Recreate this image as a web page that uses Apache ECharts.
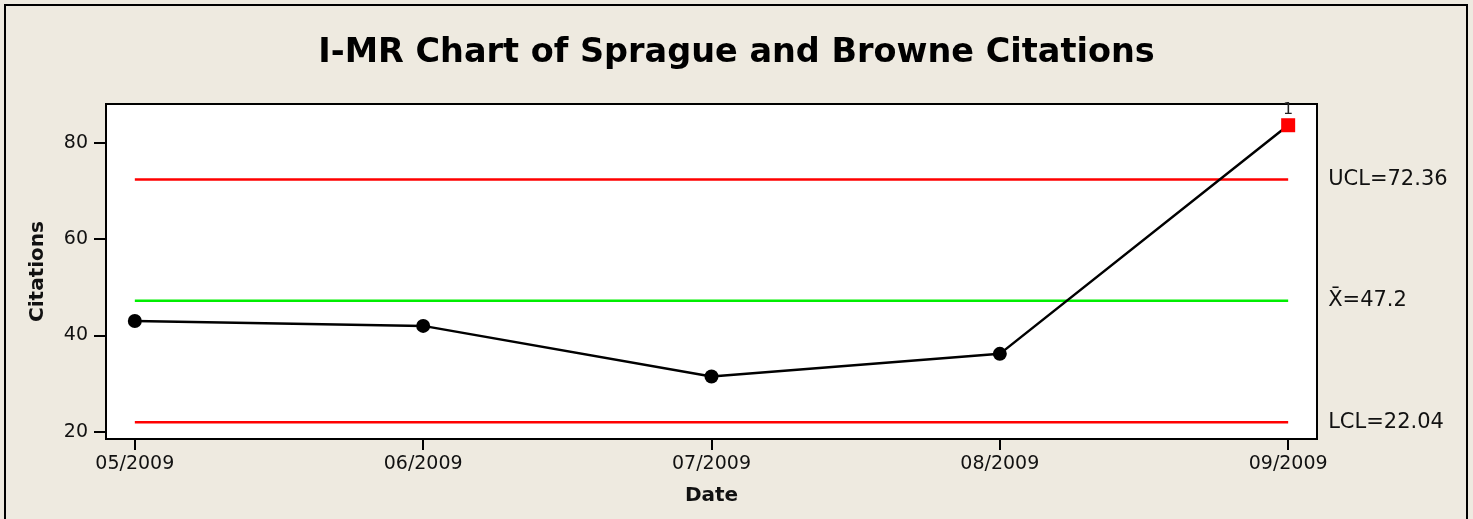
<!DOCTYPE html>
<html>
<head>
<meta charset="utf-8">
<script src="https://cdn.jsdelivr.net/npm/echarts@6/dist/echarts.min.js"></script>
<style>
  html, body { margin: 0; padding: 0; background: #eeeae0; }
  #chart { width: 1473px; height: 519px; }
</style>
</head>
<body>
<div id="chart"></div>
<script>
  // data
  const dates = ['05/2009', '06/2009', '07/2009', '08/2009', '09/2009']
  const citations = [43, 42, 31.5, 36.2, 83.6]
  const limits = [
    { name: 'UCL', value: 72.36, text: 'UCL=72.36', color: '#ff0000' },
    { name: 'Mean', value: 47.2, text: 'X\u0304=47.2', color: '#00ee00' },
    { name: 'LCL', value: 22.04, text: 'LCL=22.04', color: '#ff0000' }
  ]
  const yTicks = [20, 40, 60, 80]
  const outOfControl = [4] // index of points flagged by test 1

  const xIdx = dates.map((d, i) => i)
  const font = 'DejaVu Sans'

  const pointData = citations.map((v, i) => {
    if (outOfControl.includes(i)) {
      return {
        value: [i, v],
        symbol: 'rect',
        itemStyle: { color: '#ff0000' },
        label: { show: true, position: 'top', distance: 0, formatter: '1', fontSize: 16, color: '#222', fontFamily: font }
      }
    }
    return [i, v]
  })

  const limitSeries = limits.map(l => ({
    name: l.name,
    type: 'line',
    data: [[0, l.value], [dates.length - 1, l.value]],
    symbol: 'none',
    silent: true,
    z: 1,
    lineStyle: { color: l.color, width: 2.5 },
    endLabel: {
      show: true,
      formatter: l.text,
      distance: 40,
      fontSize: 21,
      color: '#111',
      fontFamily: font
    }
  }))

  const chart = echarts.init(document.getElementById('chart'))
  chart.setOption({
    backgroundColor: '#eeeae0',
    animation: false,
    title: {
      text: 'I-MR Chart of Sprague and Browne Citations',
      left: 'center',
      top: 31,
      textStyle: { fontFamily: font, fontSize: 33.5, fontWeight: 'bold', color: '#000' }
    },
    graphic: [{
      type: 'rect',
      shape: { x: 5, y: 5, width: 1462, height: 530 },
      style: { fill: 'none', stroke: '#000', lineWidth: 2 },
      silent: true
    }],
    grid: {
      left: 106, top: 104, width: 1211, height: 335,
      show: true, backgroundColor: '#fff', borderColor: '#000', borderWidth: 2
    },
    xAxis: {
      type: 'value',
      min: -0.1,
      max: 4.1,
      name: 'Date',
      nameLocation: 'middle',
      nameGap: 47,
      nameTextStyle: { fontFamily: font, fontSize: 20, fontWeight: 'bold', color: '#111' },
      splitLine: { show: false },
      axisLine: { onZero: false, lineStyle: { color: '#000', width: 2 } },
      axisTick: { customValues: xIdx, length: 11, lineStyle: { color: '#000', width: 2 } },
      axisLabel: {
        customValues: xIdx,
        formatter: v => dates[Math.round(v)],
        margin: 16,
        fontSize: 19,
        color: '#111',
        fontFamily: font
      }
    },
    yAxis: {
      type: 'value',
      min: 18.55,
      max: 88,
      name: 'Citations',
      nameLocation: 'middle',
      nameGap: 58,
      nameTextStyle: { fontFamily: font, fontSize: 20, fontWeight: 'bold', color: '#111' },
      splitLine: { show: false },
      axisLine: { show: true, onZero: false, lineStyle: { color: '#000', width: 2 } },
      axisTick: { customValues: yTicks, length: 12, lineStyle: { color: '#000', width: 2 } },
      axisLabel: {
        customValues: yTicks,
        margin: 18,
        fontSize: 19,
        color: '#111',
        fontFamily: font
      }
    },
    series: [
      ...limitSeries,
      {
        name: 'Citations',
        type: 'line',
        data: pointData,
        clip: false,
        z: 3,
        symbol: 'circle',
        symbolSize: 14,
        showAllSymbol: true,
        itemStyle: { color: '#000' },
        lineStyle: { color: '#000', width: 2.5 }
      }
    ]
  })
</script>
</body>
</html>
